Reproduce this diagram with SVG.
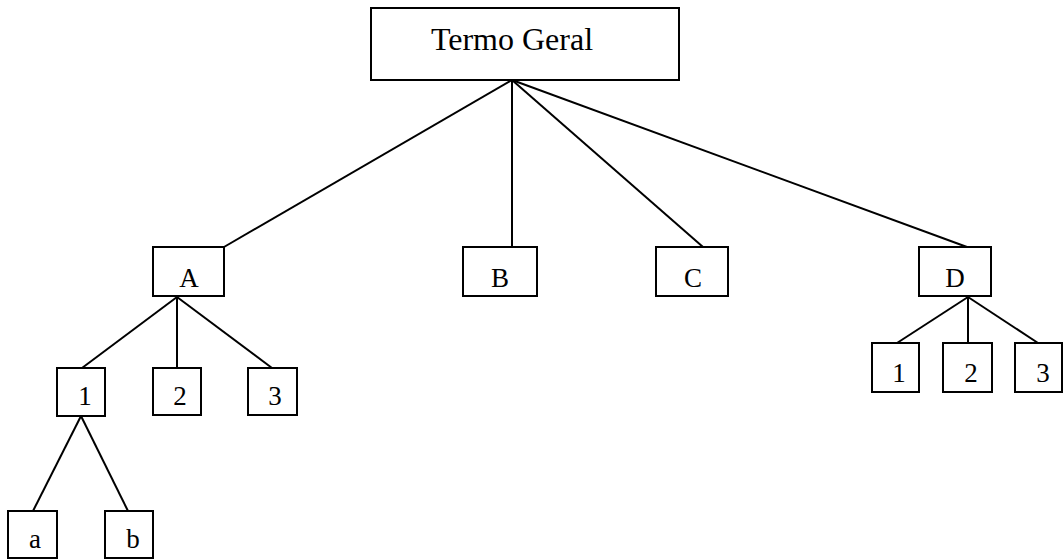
<svg xmlns="http://www.w3.org/2000/svg" width="1063" height="560" viewBox="0 0 1063 560">
<style>
.box{fill:#fff;stroke:#000;stroke-width:2}
.ln{stroke:#000;stroke-width:2;fill:none}
text{font-family:"Liberation Serif","Times New Roman",serif;fill:#000;text-anchor:middle}
.big{font-size:32px}
.sm{font-size:27px}
</style>
<rect width="1063" height="560" fill="#fff"/>
<g id="connectors">
<line class="ln" x1="512" y1="80" x2="224" y2="247"/>
<line class="ln" x1="512" y1="80" x2="512" y2="247"/>
<line class="ln" x1="512" y1="80" x2="703" y2="247"/>
<line class="ln" x1="512" y1="80" x2="967" y2="247"/>
<line class="ln" x1="177" y1="297" x2="82" y2="368"/>
<line class="ln" x1="177" y1="297" x2="177" y2="368"/>
<line class="ln" x1="177" y1="297" x2="272" y2="368"/>
<line class="ln" x1="81" y1="416" x2="33" y2="511"/>
<line class="ln" x1="81" y1="416" x2="128" y2="511"/>
<line class="ln" x1="968" y1="297" x2="897" y2="343"/>
<line class="ln" x1="968" y1="297" x2="968" y2="343"/>
<line class="ln" x1="968" y1="297" x2="1038" y2="343"/>
</g>
<g id="termo"><rect class="box" x="371" y="8" width="308" height="72"/><text class="big" x="512" y="50">Termo Geral</text></g>
<g id="A"><rect class="box" x="153" y="247" width="71" height="49"/><text class="sm" x="189" y="287">A</text></g>
<g id="B"><rect class="box" x="463" y="247" width="74" height="49"/><text class="sm" x="500" y="287">B</text></g>
<g id="C"><rect class="box" x="656" y="247" width="72" height="49"/><text class="sm" x="693" y="287">C</text></g>
<g id="D"><rect class="box" x="919" y="247" width="72" height="49"/><text class="sm" x="955" y="287">D</text></g>
<g id="A1"><rect class="box" x="57" y="368" width="48" height="48"/><text class="sm" x="85" y="405">1</text></g>
<g id="A2"><rect class="box" x="153" y="368" width="48" height="47"/><text class="sm" x="180" y="405">2</text></g>
<g id="A3"><rect class="box" x="248" y="368" width="49" height="47"/><text class="sm" x="275" y="405">3</text></g>
<g id="a"><rect class="box" x="8" y="511" width="49" height="47"/><text class="sm" x="35" y="548">a</text></g>
<g id="b"><rect class="box" x="105" y="511" width="48" height="47"/><text class="sm" x="133" y="548">b</text></g>
<g id="D1"><rect class="box" x="872" y="343" width="47" height="49"/><text class="sm" x="899" y="382">1</text></g>
<g id="D2"><rect class="box" x="943" y="343" width="49" height="49"/><text class="sm" x="971" y="382">2</text></g>
<g id="D3"><rect class="box" x="1015" y="343" width="47" height="49"/><text class="sm" x="1043" y="382">3</text></g>
</svg>
